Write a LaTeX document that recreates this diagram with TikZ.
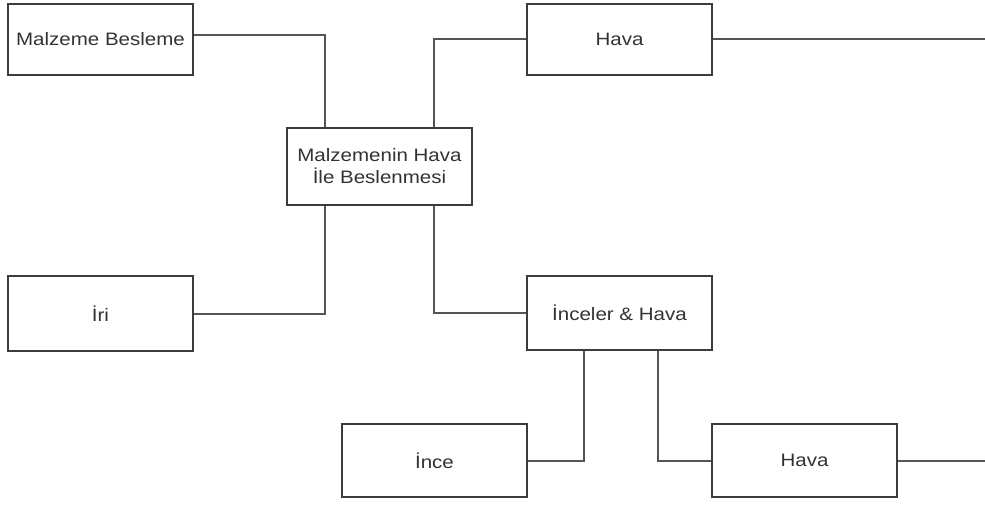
\documentclass[tikz,border=0pt]{standalone}
\usepackage{fontspec}
\setmainfont{Liberation Sans}[FakeStretch=1.14]
\definecolor{boxline}{HTML}{3C3C3C}
\definecolor{conline}{HTML}{555555}
\definecolor{txt}{HTML}{333333}
\begin{document}
\begin{tikzpicture}[x=1pt,y=-1pt,
  blk/.style={draw=boxline,line width=2pt,fill=white,minimum width=185pt,text=txt,
    font=\fontsize{18}{22}\selectfont,align=center,inner sep=0pt},
  con/.style={draw=conline,line width=2pt}]
\useasboundingbox (0,0) rectangle (985,505);
\node[blk,minimum height=71pt] (mb) at (100.5,39.5) {Malzeme Besleme};
\node[blk,minimum height=77pt] (ctr) at (379.5,166.5) {Malzemenin Hava\\İle Beslenmesi};
\node[blk,minimum height=71pt] (hava1) at (619.5,39.5) {Hava};
\node[blk,minimum height=75pt] (iri) at (100.5,313.5) {İri};
\node[blk,minimum height=74pt] (inceler) at (619.5,313) {İnceler \& Hava};
\node[blk,minimum height=73pt] (ince) at (434.5,460.5) {İnce};
\node[blk,minimum height=73pt] (hava2) at (804.5,460.5) {Hava};
\coordinate (out1) at (985,39.5);
\coordinate (out2) at (985,460.5);
\draw[con] ([yshift=4.5pt]mb.east) -| ([xshift=-54.5pt]ctr.north);
\draw[con] ([xshift=54.5pt]ctr.north) |- (hava1.west);
\draw[con] (hava1.east) -- (out1);
\draw[con] (iri.east) -| ([xshift=-54.5pt]ctr.south);
\draw[con] ([xshift=54.5pt]ctr.south) |- (inceler.west);
\draw[con] (ince.east) -| ([xshift=-36pt]inceler.south);
\draw[con] ([xshift=38pt]inceler.south) |- (hava2.west);
\draw[con] (hava2.east) -- (out2);
\end{tikzpicture}
\end{document}
